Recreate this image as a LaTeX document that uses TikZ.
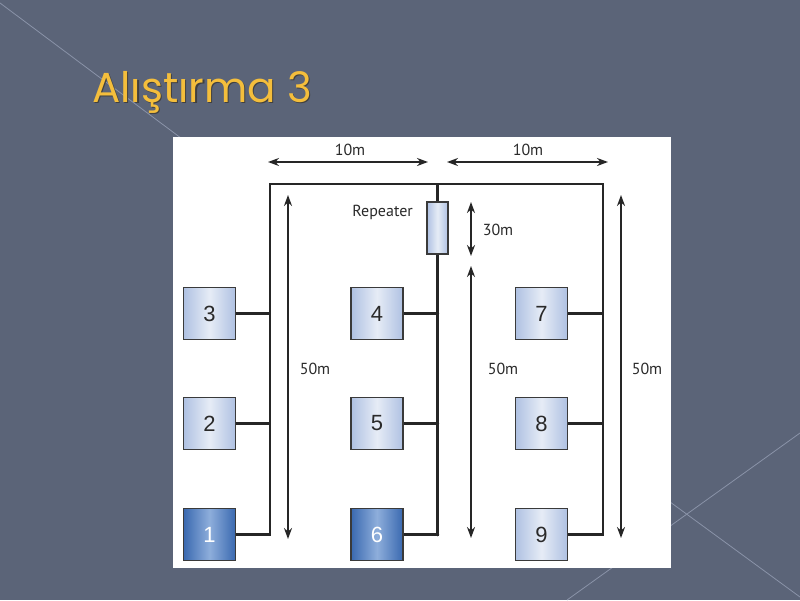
\documentclass[tikz,border=0pt]{standalone}
\usepackage{fontspec}
\setmainfont{PT Sans}
\newfontfamily\titlefont{Poppins}
\newfontfamily\digitfont{Liberation Sans}
\usetikzlibrary{arrows.meta}
\definecolor{bgc}{HTML}{5B6478}
\definecolor{decol}{HTML}{8A93A8}
\definecolor{titlec}{HTML}{F4BE3C}
\definecolor{lightedge}{HTML}{AFC1E2}
\definecolor{lightmid}{HTML}{E6ECF6}
\definecolor{darkedge}{HTML}{3A69B0}
\definecolor{darkmid}{HTML}{8EAEDB}
\definecolor{boxborder}{HTML}{3A3A3A}
\definecolor{txt}{HTML}{2A2A2A}
\tikzset{
  pc/.style={minimum width=52pt,minimum height=52pt,draw=boxborder,line width=1.2pt,
    left color=lightedge,right color=lightedge,middle color=lightmid,
    font=\digitfont\fontsize{22}{22}\selectfont,text=txt,inner sep=0pt},
  pcdark/.style={pc,left color=darkedge,right color=darkedge,middle color=darkmid,text=white},
  bus/.style={line width=2.5pt,draw=black!85},
  dim/.style={line width=2.5pt,draw=black!85,{Stealth[length=11pt,width=8pt]}-{Stealth[length=11pt,width=8pt]}},
  lbl/.style={font=\fontsize{16}{16}\selectfont,text=txt,inner sep=0pt},
  deco/.style={draw=decol,line width=0.8pt},
  joint/.style={fill=black!85,circle,inner sep=0pt,minimum size=3.5pt}
}
\begin{document}
\begin{tikzpicture}[x=1pt,y=-1pt]
\fill[bgc] (0,0) rectangle (800,600);
\useasboundingbox (0,0) rectangle (800,600);
% decorative lines
\draw[deco] (0,3) -- (260,197);
\draw[deco] (800,433) -- (567,600);
\draw[deco] (640,480) -- (800,597);
% title
\node[anchor=base west,text=black!75,inner sep=0pt,font=\titlefont\fontsize{42}{42}\selectfont] at (93.3,103.3) {Alıştırma 3};
\node[anchor=base west,text=titlec,inner sep=0pt,font=\titlefont\fontsize{42}{42}\selectfont] (title) at (92,102) {Alıştırma 3};
% panel
\fill[white] (173,137) rectangle (671,568);
% boxes
\node[pc] (b3) at (209.5,313.5) {3};
\node[pc] (b2) at (209.5,423.5) {2};
\node[pcdark] (b1) at (209.5,534.5) {1};
\node[pc] (b4) at (377,313.5) {4};
\node[pc] (b5) at (377,423.5) {5};
\node[pcdark] (b6) at (377,534.5) {6};
\node[pc] (b7) at (541.5,313.5) {7};
\node[pc] (b8) at (541.5,423.5) {8};
\node[pc] (b9) at (541.5,534.5) {9};
% repeater
\node[minimum width=21pt,minimum height=52pt,draw=boxborder,line width=1.2pt,
  left color=lightedge,right color=lightedge,middle color=lightmid,inner sep=0pt] (rep) at (437.5,228) {};
\node[lbl,anchor=east] (replbl) at (413,212) {Repeater};
% bus coordinates
\coordinate (tl) at (270,184);
\coordinate (tm) at (437.5,184);
\coordinate (tr) at (603,184);
\coordinate (ml) at (437.5,534.5);
% buses
\draw[bus] (b1.east) -- (b1.east -| tl) -- (tl) -- (tr) -- (b9.east -| tr) -- (b9.east);
\draw[bus] (tm) -- (rep.north);
\draw[bus] (rep.south) -- (ml) -- (b6.east);
\draw[bus] (b3.east) -- (b3.east -| tl);
\draw[bus] (b2.east) -- (b2.east -| tl);
\draw[bus] (b4.east) -- (b4.east -| tm);
\draw[bus] (b5.east) -- (b5.east -| tm);
\draw[bus] (b7.east) -- (b7.east -| tr);
\draw[bus] (b8.east) -- (b8.east -| tr);
\node[joint] at (b4.east -| tm) {};
\node[joint] at (b5.east -| tm) {};
\node[joint] at (ml) {};
% dimension arrows
\coordinate (d1a) at (268,162); \coordinate (d1b) at (428,162);
\coordinate (d2a) at (447,162); \coordinate (d2b) at (608,162);
\draw[dim] (d1a) -- (d1b);
\draw[dim] (d2a) -- (d2b);
\node[lbl] (l10a) at (350,150) {10m};
\node[lbl] (l10b) at (528,150) {10m};
\coordinate (d3a) at (288,195); \coordinate (d3b) at (288,539);
\draw[dim] (d3a) -- (d3b);
\coordinate (d4a) at (471,202); \coordinate (d4b) at (471,256);
\draw[dim] (d4a) -- (d4b);
\coordinate (d5a) at (471,266); \coordinate (d5b) at (471,538);
\draw[dim] (d5a) -- (d5b);
\coordinate (d6a) at (621,195); \coordinate (d6b) at (621,538);
\draw[dim] (d6a) -- (d6b);
\node[lbl] (l30) at (498,230) {30m};
\node[lbl] (l50a) at (315,369) {50m};
\node[lbl] (l50b) at (503,369) {50m};
\node[lbl] (l50c) at (647,369) {50m};
\end{tikzpicture}
\end{document}
